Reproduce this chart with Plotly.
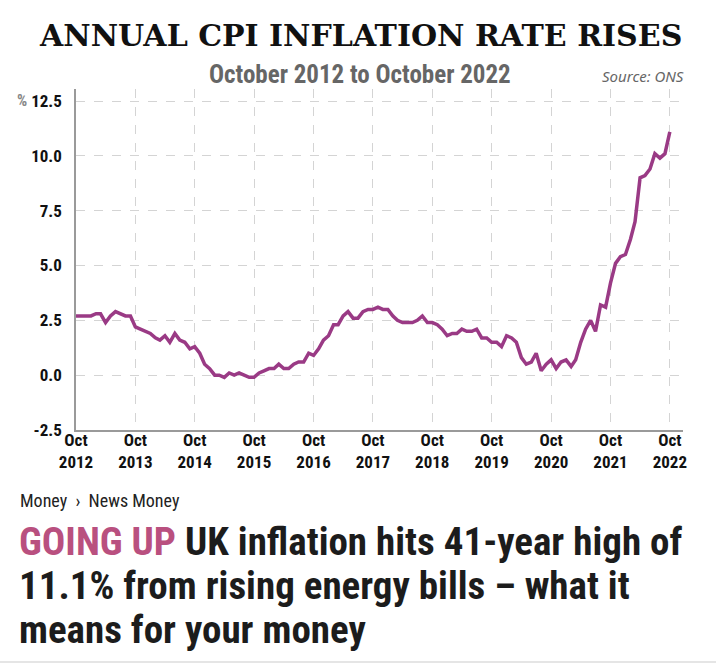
import plotly.graph_objects as go

# ---- data (UK CPI annual rate, monthly, Oct 2012 - Oct 2022) ----
start_year = 2012
start_month = 10
cpi = [
    2.7, 2.7, 2.7,                                              # Oct-Dec 2012
    2.7, 2.8, 2.8, 2.4, 2.7, 2.9, 2.8, 2.7, 2.7, 2.2, 2.1, 2.0,  # 2013
    1.9, 1.7, 1.6, 1.8, 1.5, 1.9, 1.6, 1.5, 1.2, 1.3, 1.0, 0.5,  # 2014
    0.3, 0.0, 0.0, -0.1, 0.1, 0.0, 0.1, 0.0, -0.1, -0.1, 0.1, 0.2,  # 2015
    0.3, 0.3, 0.5, 0.3, 0.3, 0.5, 0.6, 0.6, 1.0, 0.9, 1.2, 1.6,  # 2016
    1.8, 2.3, 2.3, 2.7, 2.9, 2.6, 2.6, 2.9, 3.0, 3.0, 3.1, 3.0,  # 2017
    3.0, 2.7, 2.5, 2.4, 2.4, 2.4, 2.5, 2.7, 2.4, 2.4, 2.3, 2.1,  # 2018
    1.8, 1.9, 1.9, 2.1, 2.0, 2.0, 2.1, 1.7, 1.7, 1.5, 1.5, 1.3,  # 2019
    1.8, 1.7, 1.5, 0.8, 0.5, 0.6, 1.0, 0.2, 0.5, 0.7, 0.3, 0.6,  # 2020
    0.7, 0.4, 0.7, 1.5, 2.1, 2.5, 2.0, 3.2, 3.1, 4.2, 5.1, 5.4,  # 2021
    5.5, 6.2, 7.0, 9.0, 9.1, 9.4, 10.1, 9.9, 10.1, 11.1,         # Jan-Oct 2022
]
tick_years = list(range(2012, 2023))
y_ticks = [-2.5, 0.0, 2.5, 5.0, 7.5, 10.0, 12.5]

dates = []
y, m = start_year, start_month
for _ in cpi:
    dates.append(f"{y:04d}-{m:02d}-01")
    m += 1
    if m > 12:
        m = 1
        y += 1

tick_vals = [f"{yr}-10-01" for yr in tick_years]
tick_text = [f"Oct<br>{yr}" for yr in tick_years]

# ---- layout geometry (pixels) ----
W, H = 716, 667
L, R, T, B = 76, 33, 89, 237
PW = W - L - R
PH = H - T - B


def px(xp):
    return (xp - L) / PW


def py(yp):
    return (H - B - yp) / PH


COND = "Roboto Condensed"
LINE_COLOR = "#9a3a85"

fig = go.Figure()
fig.add_trace(go.Scatter(
    x=dates, y=cpi, mode="lines",
    line=dict(color=LINE_COLOR, width=3.5),
    hoverinfo="skip", showlegend=False,
))

fig.update_layout(
    width=W, height=H,
    margin=dict(l=L, r=R, t=T, b=B, pad=0),
    paper_bgcolor="white", plot_bgcolor="white",
    xaxis=dict(
        type="date",
        range=["2012-10-01", "2022-12-21"],
        tickmode="array", tickvals=tick_vals, ticktext=tick_text,
        showgrid=True, gridcolor="#d4d4d4", griddash="dash", gridwidth=1,
        showline=True, linecolor="#9a9a9a", linewidth=1.5,
        ticks="", tickfont=dict(family=COND, size=17, color="#111", weight="bold"),
        ticklabelstandoff=-6,
        zeroline=False, fixedrange=True,
    ),
    yaxis=dict(
        range=[-2.5, 13.05],
        tickmode="array", tickvals=y_ticks,
        ticktext=[f"{v:.1f}" for v in y_ticks],
        showgrid=True, gridcolor="#d4d4d4", griddash="dash", gridwidth=1,
        showline=True, linecolor="#9a9a9a", linewidth=1.5,
        ticks="", tickfont=dict(family=COND, size=17, color="#111", weight="bold"),
        ticklabelstandoff=9,
        zeroline=False, fixedrange=True,
    ),
    font=dict(family=COND),
)

ann = []
# title
ann.append(dict(
    text="ANNUAL CPI INFLATION RATE RISES",
    x=px(360), y=py(36), xref="paper", yref="paper",
    xanchor="center", yanchor="middle", showarrow=False,
    font=dict(family="DejaVu Serif", size=30, color="#111", weight="bold"),
))
# subtitle
ann.append(dict(
    text="October 2012 to October 2022",
    x=px(360), y=py(74), xref="paper", yref="paper",
    xanchor="center", yanchor="middle", showarrow=False,
    font=dict(family=COND, size=25, color="#666", weight="bold"),
))
# source
ann.append(dict(
    text="<i>Source: ONS</i>",
    x=px(686), y=py(76), xref="paper", yref="paper",
    xanchor="right", yanchor="middle", showarrow=False,
    font=dict(family="Noto Sans", size=15, color="#666"),
))
# percent sign
ann.append(dict(
    text="%",
    x=px(29), y=py(101), xref="paper", yref="paper",
    xanchor="right", yanchor="middle", showarrow=False,
    font=dict(family=COND, size=16, color="#888", weight="bold"),
))
# breadcrumb
ann.append(dict(
    text="Money  \u203a  News Money",
    x=px(18), y=py(500), xref="paper", yref="paper",
    xanchor="left", yanchor="middle", showarrow=False,
    font=dict(family=COND, size=18, color="#222"),
))
# headline
head_lines = [
    "<span style='color:#b9507f'>GOING UP</span> UK inflation hits 41-year high of",
    "11.1% from rising energy bills \u2013 what it",
    "means for your money",
]
for i, line in enumerate(head_lines):
    ann.append(dict(
        text=line,
        x=px(17), y=py(542 + 44 * i), xref="paper", yref="paper",
        xanchor="left", yanchor="middle", showarrow=False,
        font=dict(family=COND, size=39, color="#1c1c1c", weight="bold"),
    ))
fig.update_layout(annotations=ann)

# bottom separator
fig.add_shape(type="line", xref="paper", yref="paper",
              x0=px(0), x1=px(W), y0=py(662), y1=py(662),
              line=dict(color="#dddddd", width=1.5))

fig.write_html("out.html")
